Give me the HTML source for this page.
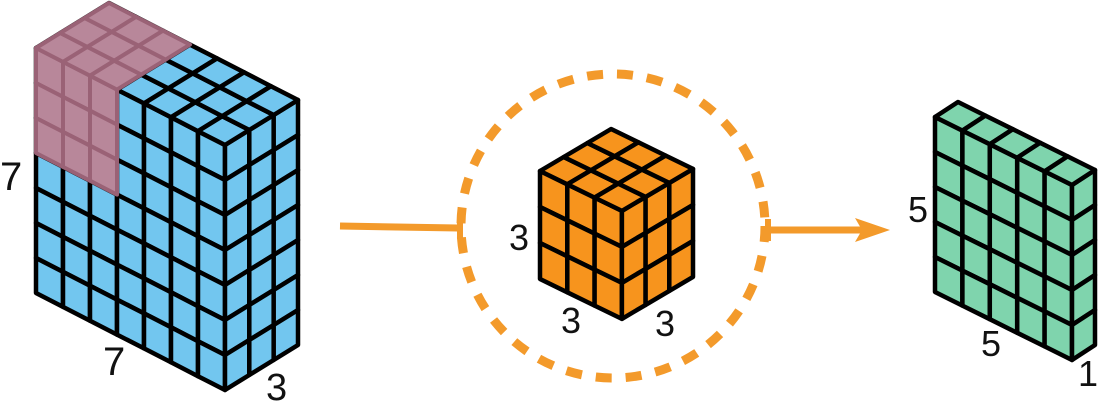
<!DOCTYPE html>
<html><head><meta charset="utf-8"><style>
html,body{margin:0;padding:0;background:#fff;}
svg{display:block;}
text{font-family:"Liberation Sans",sans-serif;fill:#111;}
</style></head><body>
<svg id="s" width="1100" height="413" viewBox="0 0 1100 413" xmlns="http://www.w3.org/2000/svg">
<g id="g"></g>
<circle cx="613" cy="226" r="152" fill="none" stroke="#f39a2b" stroke-width="9" stroke-dasharray="16 14"/>
<line x1="340" y1="226" x2="458" y2="228" stroke="#f39a2b" stroke-width="7"/>
<line x1="460" y1="216" x2="460" y2="239" stroke="#f39a2b" stroke-width="6"/>
<line x1="768" y1="219" x2="768" y2="241" stroke="#f39a2b" stroke-width="6"/>
<line x1="768" y1="230" x2="862" y2="230" stroke="#f39a2b" stroke-width="7"/>
<polygon points="890,230 855,218 862,230 855,242" fill="#f39a2b"/>
<text x="0" y="190" font-size="40">7</text>
<text x="103" y="375" font-size="40">7</text>
<text x="266" y="400" font-size="38">3</text>
<text x="509" y="250" font-size="36">3</text>
<text x="561" y="333" font-size="36">3</text>
<text x="655" y="336" font-size="36">3</text>
<text x="908" y="222" font-size="36">5</text>
<text x="981" y="356" font-size="36">5</text>
<text x="1078" y="386" font-size="36">1</text>
</svg>
<script>
var g=document.getElementById('g'),NS='http://www.w3.org/2000/svg';
function poly(pts,fill,stroke,sw){var p=document.createElementNS(NS,'polygon');p.setAttribute('points',pts.map(function(q){return q[0].toFixed(1)+','+q[1].toFixed(1)}).join(' '));p.setAttribute('fill',fill);p.setAttribute('stroke',stroke);p.setAttribute('stroke-width',sw);p.setAttribute('stroke-linejoin','round');g.appendChild(p);}
function P(o,u,v,h,i,j,k){return [o[0]+i*u[0]+j*v[0],o[1]+i*u[1]+j*v[1]+k*h];}
function box(o,u,v,h,nu,nv,nh,fill,stroke,sw,filt){
 for(var i=0;i<nu;i++)for(var k=0;k<nh;k++){if(filt&&!filt('f',i,k))continue;
  poly([P(o,u,v,h,i,0,k),P(o,u,v,h,i+1,0,k),P(o,u,v,h,i+1,0,k+1),P(o,u,v,h,i,0,k+1)],fill,stroke,sw);}
 if(!filt)for(var j=0;j<nv;j++)for(var k=0;k<nh;k++){
  poly([P(o,u,v,h,nu,j,k),P(o,u,v,h,nu,j+1,k),P(o,u,v,h,nu,j+1,k+1),P(o,u,v,h,nu,j,k+1)],fill,stroke,sw);}
 for(var i=0;i<nu;i++)for(var j=0;j<nv;j++){if(filt&&!filt('t',i,j))continue;
  poly([P(o,u,v,h,i,j,0),P(o,u,v,h,i+1,j,0),P(o,u,v,h,i+1,j+1,0),P(o,u,v,h,i,j+1,0)],fill,stroke,sw);}
}
box([36,48],[27,13.86],[24.33,-15],35,7,3,7,'#72c6ef','#000',4.5);
box([36,48],[27,13.86],[24.33,-15],35,7,3,7,'#b8879a','#9a6276',4,function(t,i,k){return i<3&&(t=='t'||k<3);});
box([540,171],[27.3,13.3],[23.7,-14],36,3,3,3,'#f7941d','#000',4.5);
box([935,117],[27.4,13.6],[23,-15],35,5,1,5,'#7fd4ad','#000',4.5);
</script>
</body></html>
